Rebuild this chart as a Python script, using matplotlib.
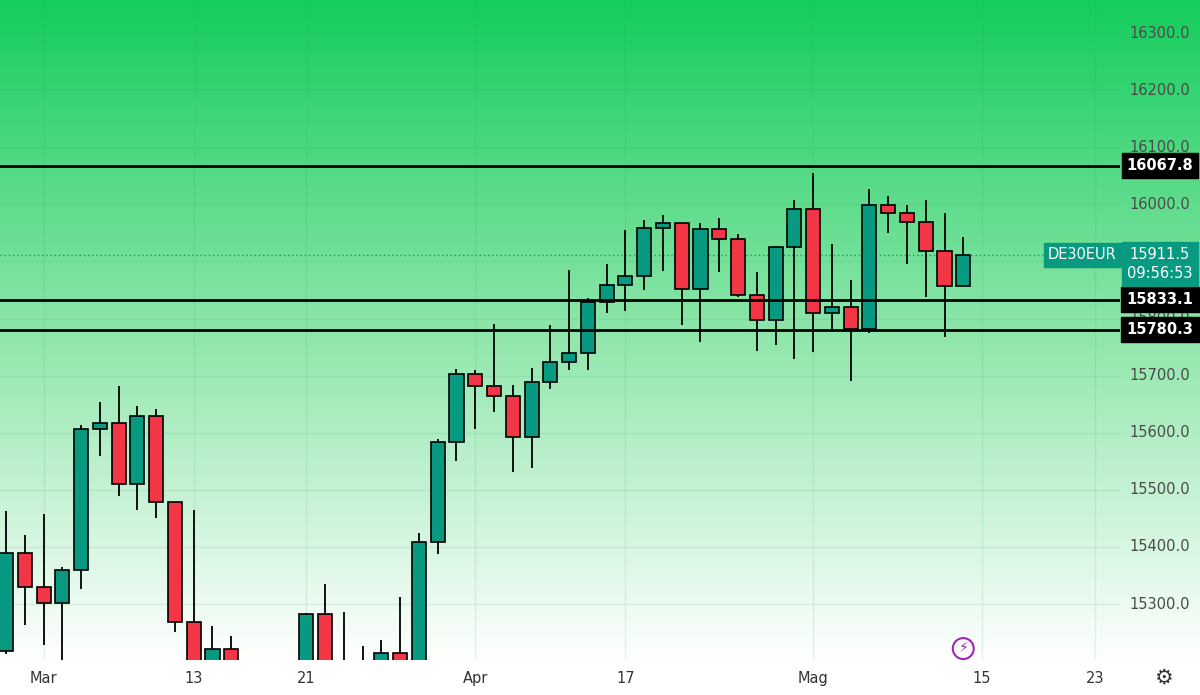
import numpy as np
import matplotlib.pyplot as plt
from matplotlib.colors import LinearSegmentedColormap

# daily OHLC, DE30EUR
opens = [15218, 15389, 15330, 15302, 15360, 15606, 15617, 15510, 15629, 15479,
         15268, 15170, 15221, 15190, 15150, 15170, 15170, 15283, 15180, 15170,
         15180, 15214, 15180, 15409, 15584, 15703, 15682, 15664, 15592, 15689,
         15724, 15740, 15829, 15859, 15874, 15958, 15967, 15852, 15957, 15939,
         15841, 15797, 15925, 15992, 15810, 15820, 15782, 15999, 15985, 15969,
         15918, 15857]
highs = [15463, 15421, 15458, 15365, 15613, 15654, 15682, 15647, 15642, 15479,
         15465, 15261, 15244, 15200, 15190, 15200, 15284, 15335, 15286, 15226,
         15237, 15312, 15424, 15589, 15712, 15710, 15790, 15684, 15713, 15789,
         15885, 15836, 15895, 15955, 15973, 15981, 15967, 15967, 15976, 15948,
         15881, 15927, 16008, 16055, 15930, 15867, 16027, 16015, 15999, 16008,
         15985, 15943]
lows = [15212, 15263, 15228, 15190, 15326, 15559, 15489, 15465, 15451, 15251,
        15180, 15150, 15160, 15120, 15100, 15140, 15150, 15150, 15130, 15140,
        15160, 15150, 15160, 15388, 15550, 15606, 15636, 15531, 15538, 15677,
        15710, 15710, 15810, 15813, 15850, 15883, 15789, 15759, 15881, 15838,
        15743, 15754, 15729, 15741, 15782, 15691, 15775, 15950, 15895, 15838,
        15768, 15857]
closes = [15389, 15330, 15302, 15360, 15606, 15617, 15510, 15629, 15479, 15268,
          15200, 15221, 15190, 15150, 15170, 15180, 15283, 15180, 15170, 15180,
          15214, 15180, 15409, 15584, 15703, 15682, 15664, 15592, 15689, 15724,
          15740, 15829, 15859, 15874, 15958, 15967, 15852, 15957, 15939, 15841,
          15797, 15925, 15992, 15810, 15820, 15782, 15999, 15985, 15969, 15918,
          15857, 15911.5]

levels = [16067.8, 15833.1, 15780.3]
last_price = 15911.5
date_pos = [2, 10, 16, 25, 33, 43, 52, 58]
date_labels = ["Mar", "13", "21", "Apr", "17", "Mag", "15", "23"]
yticks = [15300, 15400, 15500, 15600, 15700, 15800, 16000, 16100, 16200, 16300]

green = "#089981"
red = "#f23645"
ymin, ymax = 15202, 16358
xmin, xmax = -0.32, 59.35

fig = plt.figure(figsize=(12, 6.95), dpi=100)

# background gradient over the full width (price scale included)
bg = fig.add_axes([0, 35/695, 1, 660/695])
cmap = LinearSegmentedColormap.from_list("bg", ["#ffffff", "#8ee6aa", "#14cd5c"])
grad = np.linspace(0, 1, 256).reshape(-1, 1)
bg.imshow(grad, cmap=cmap, aspect="auto", origin="lower", extent=[0, 1, 0, 1])
bg.set_axis_off()

ax = fig.add_axes([0, 35/695, 1120/1200, 660/695])
ax.patch.set_visible(False)

for p in range(15300, 16400, 100):
    ax.axhline(p, color="#2a9d5c", alpha=0.12, lw=1, zorder=1)
for d in date_pos:
    ax.axvline(d, color="#2a9d5c", alpha=0.12, lw=1, zorder=1)

for i in range(len(opens)):
    o, h, l, c = opens[i], highs[i], lows[i], closes[i]
    col = green if c >= o else red
    ax.vlines(i, l, h, color="black", lw=1.3, zorder=2)
    ax.bar(i, abs(c - o), bottom=min(o, c), width=0.75, color=col,
           edgecolor="black", lw=1.2, zorder=3)

for lv in levels:
    ax.axhline(lv, color="black", lw=2, zorder=4)
ax.axhline(last_price, color=green, lw=1, ls=(0, (1, 2)), zorder=1)

ax.set_xlim(xmin, xmax)
ax.set_ylim(ymin, ymax)
ax.set_xticks([])
ax.set_yticks([])
for s in ax.spines.values():
    s.set_visible(False)

# right price scale
tr = ax.get_yaxis_transform()
sx = 1160 / 1120
for t in yticks:
    ax.text(sx, t, f"{t:.1f}", transform=tr, ha="center", va="center",
            fontsize=10.5, color="#4a4a4a", clip_on=False)
for lv in levels:
    ax.text(sx, lv, f"{lv:.1f}", transform=tr, ha="center", va="center",
            fontsize=10.5, color="white", fontweight="bold", clip_on=False,
            bbox=dict(boxstyle="square,pad=0.35", fc="black", ec="black"), zorder=6)
ax.text(sx, last_price + 14, f"{last_price:.1f}\n09:56:53", transform=tr,
        ha="center", va="top", fontsize=10.5, color="white", clip_on=False,
        linespacing=1.3,
        bbox=dict(boxstyle="square,pad=0.35", fc=green, ec=green), zorder=6)
ax.text(0.997, last_price, "DE30EUR", transform=tr, ha="right", va="center",
        fontsize=10.5, color="white", zorder=6,
        bbox=dict(boxstyle="square,pad=0.3", fc=green, ec=green))

# lightning icon
ax.text(51, 15222, "⚡", ha="center", va="center", fontsize=10, color="#9c27b0",
        bbox=dict(boxstyle="circle,pad=0.25", fc="none", ec="#9c27b0", lw=1.5))

# date labels
for d, lab in zip(date_pos, date_labels):
    ax.text(d, -0.028, lab, transform=ax.get_xaxis_transform(), ha="center",
            va="center", fontsize=10.5, color="#333333", clip_on=False)
fig.text(1163/1200, 17/695, "⚙", ha="center", va="center", fontsize=15, color="#333333")

fig.savefig("out.png", dpi=100)
